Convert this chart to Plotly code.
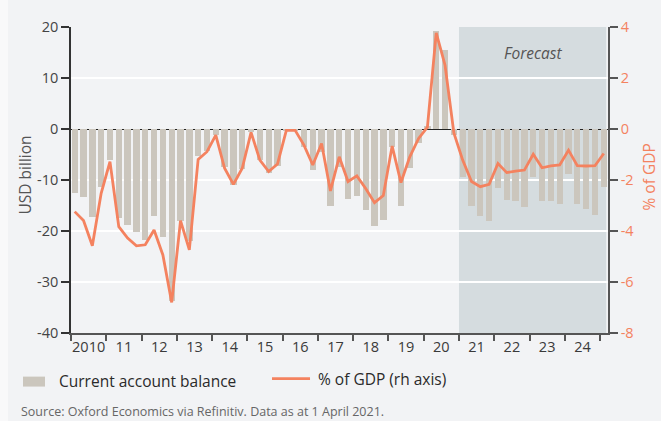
import plotly.graph_objects as go

# Quarterly data, 2010Q1 .. 2025Q1 (forecast from 2021Q1)
years = list(range(2010, 2026))
quarters = [f"{y}Q{q}" for y in years for q in (1, 2, 3, 4)][:61]

current_account = [
    -12.6, -13.4, -17.2, -11.3, -6.1, -17.5, -18.9, -20.2,
    -21.7, -17.0, -21.1, -33.8, -18.1, -21.9, -5.2, -4.3,
    -1.2, -7.5, -11.0, -7.8, -0.5, -6.1, -8.6, -7.2,
    -0.2, -0.3, -3.5, -8.0, -4.5, -15.0, -7.4, -13.7,
    -13.1, -15.9, -19.1, -17.8, -3.5, -15.0, -7.6, -2.7,
    0.6, 19.2, 15.4, -1.2, -9.5, -15.0, -17.0, -18.0,
    -11.5, -13.9, -14.2, -15.2, -9.5, -14.1, -14.2, -14.8,
    -8.9, -14.7, -15.6, -16.8, -11.3,
]
pct_gdp = [
    -3.24, -3.59, -4.58, -2.52, -1.28, -3.83, -4.28, -4.58,
    -4.54, -3.96, -4.94, -6.80, -3.59, -4.74, -1.19, -0.89,
    -0.24, -1.54, -2.17, -1.54, -0.13, -1.22, -1.67, -1.37,
    -0.05, -0.05, -0.63, -1.41, -0.57, -2.43, -1.09, -2.06,
    -1.84, -2.33, -2.89, -2.61, -0.67, -2.10, -1.09, -0.37,
    0.07, 3.77, 2.50, -0.15, -1.22, -2.06, -2.26, -2.17,
    -1.35, -1.71, -1.65, -1.61, -0.99, -1.52, -1.45, -1.41,
    -0.83, -1.44, -1.45, -1.44, -0.96,
]
year_labels = ["2010", "11", "12", "13", "14", "15", "16", "17",
               "18", "19", "20", "21", "22", "23", "24"]
left_ticks = [20, 10, 0, -10, -20, -30, -40]
right_ticks = [4, 2, 0, -2, -4, -6, -8]
forecast_start = "2021Q1"

BG = "#f2f3f5"
BAR = "#cbc6bd"
LINE = "#f4825f"
SHADE = "#d5dcdf"
DARK = "#3a3a3a"
FONT = "Open Sans"

xpos = [i + 0.42 for i in range(len(quarters))]
fc_idx = quarters.index(forecast_start)

fig = go.Figure()
fig.add_trace(go.Bar(x=xpos, y=current_account, name="Current account balance",
                     marker=dict(color=BAR, line=dict(width=0)), width=0.72,
                     yaxis="y"))
fig.add_trace(go.Scatter(x=xpos, y=pct_gdp, name="% of GDP (rh axis)", mode="lines",
                         line=dict(color=LINE, width=2.8), yaxis="y2"))

fig.add_shape(type="rect", xref="x", yref="paper", x0=fc_idx, x1=60.7, y0=0, y1=1,
              fillcolor=SHADE, line=dict(width=0), layer="below")

# lighter strip on the far left edge, as in the reference
fig.add_shape(type="rect", xref="paper", yref="paper", x0=-71 / 537, x1=-63 / 537,
              y0=-88 / 306, y1=1 + 27 / 306, fillcolor="#f9f9fa", line=dict(width=0),
              layer="below")

fig.add_annotation(x=(fc_idx + 60.7) / 2, y=15, xref="x", yref="y", text="<i>Forecast</i>",
                   showarrow=False, font=dict(family=FONT, size=15.5, color="#555555"))

# axis titles
fig.add_annotation(x=-46.5 / 537, y=(333 - 175) / 306, xref="paper", yref="paper",
                   text="USD billion", textangle=-90, showarrow=False,
                   xanchor="center", yanchor="middle",
                   font=dict(family=FONT, size=15.5, color="#555555"))
fig.add_annotation(x=1 + 40 / 537, y=(333 - 177.5) / 306, xref="paper", yref="paper",
                   text="% of GDP", textangle=-90, showarrow=False,
                   xanchor="center", yanchor="middle",
                   font=dict(family=FONT, size=15.5, color=LINE))

# legend (drawn manually to match the reference)
fig.add_shape(type="rect", xref="paper", yref="paper", x0=-0.0894, x1=-0.0484,
              y0=-0.1751, y1=-0.1425, fillcolor=BAR, line=dict(width=0))
fig.add_shape(type="line", xref="paper", yref="paper", x0=0.3743, x1=0.4451,
              y0=-0.149, y1=-0.149, line=dict(color=LINE, width=2.8))
fig.add_annotation(x=-0.0261, y=-0.1578, xref="paper", yref="paper", xanchor="left",
                   yanchor="middle", text="Current account balance", showarrow=False,
                   font=dict(family=FONT, size=15.5, color="#2a2a2a"))
fig.add_annotation(x=0.4562, y=-0.149, xref="paper", yref="paper", xanchor="left",
                   yanchor="middle", text="% of GDP (rh axis)", showarrow=False,
                   font=dict(family=FONT, size=15.5, color="#2a2a2a"))
fig.add_annotation(x=-0.0968, y=-0.2556, xref="paper", yref="paper", xanchor="left",
                   yanchor="middle",
                   text="Source: Oxford Economics via Refinitiv. Data as at 1 April 2021.",
                   showarrow=False, font=dict(family=FONT, size=12.5, color="#666666"))

fig.update_layout(
    width=661, height=421,
    margin=dict(l=71, r=53, t=27, b=88, autoexpand=False),
    paper_bgcolor=BG, plot_bgcolor=BG,
    showlegend=False,
    font=dict(family=FONT, size=14, color=DARK),
    bargap=0,
    xaxis=dict(range=[0, 60.9], tickvals=[4 * k + 2 for k in range(len(year_labels))],
               ticktext=year_labels, ticks="", showgrid=False, zeroline=False,
               showline=True, linecolor="#555555", linewidth=1.5, automargin=False,
               tickfont=dict(size=14.5, color="#3a3a3a"),
               minor=dict(tickvals=[4 * k for k in range(len(year_labels) + 1)],
                          ticks="outside", ticklen=6, tickcolor="#555555",
                          tickwidth=1.5, showgrid=False)),
    yaxis=dict(range=[-40, 20], tickvals=left_ticks, ticktext=[str(v) for v in left_ticks],
               showgrid=True, gridcolor="white", gridwidth=1.5,
               zeroline=True, zerolinecolor="#222222", zerolinewidth=1.3,
               showline=True, linecolor="#333333", linewidth=1.5, automargin=False,
               ticks="outside", ticklen=8, tickcolor="#333333", tickwidth=1.5,
               tickfont=dict(size=14.5, color="#444444")),
    yaxis2=dict(range=[-8, 4], tickvals=right_ticks, ticktext=[str(v) for v in right_ticks],
                overlaying="y", side="right", showgrid=False,
                zeroline=False, showline=True, linecolor="#555555", linewidth=1.5,
                automargin=False,
                ticks="outside", ticklen=8, tickcolor="#555555", tickwidth=1.5,
                tickfont=dict(size=14.5, color=LINE)),
)

fig.write_html("out.html", config={"displayModeBar": False},
               post_script="document.body.style.margin='0';"
                           "document.body.style.background='#f2f3f5';")
